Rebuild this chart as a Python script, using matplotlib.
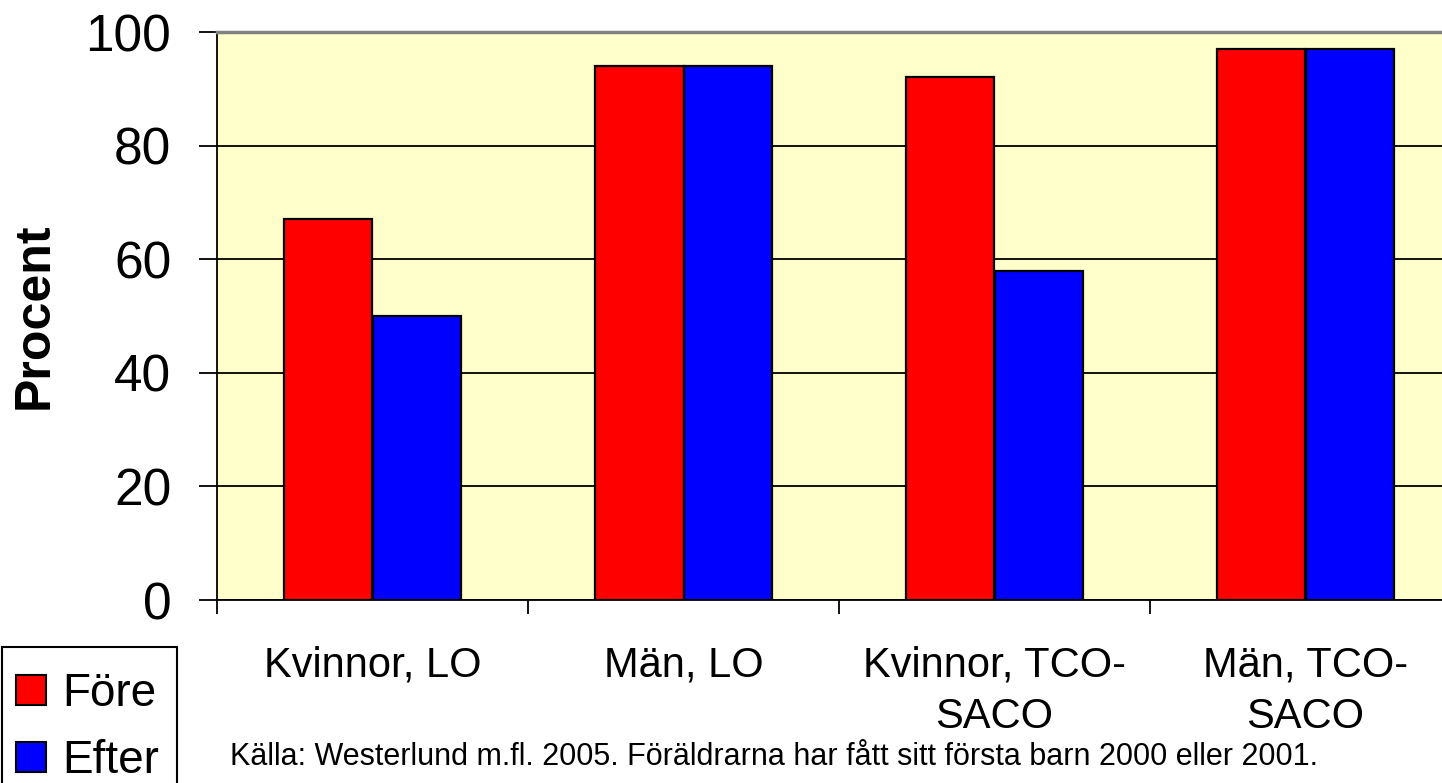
import matplotlib
matplotlib.use("Agg")
import matplotlib.pyplot as plt
from matplotlib.patches import Rectangle
import numpy as np

plt.rcParams['font.family'] = ['Liberation Sans', 'DejaVu Sans']

categories = ["Kvinnor, LO", "Män, LO", "Kvinnor, TCO-\nSACO", "Män, TCO-\nSACO"]
fore = [67, 94, 92, 97]
efter = [50, 94, 58, 97]
series_names = ["Före", "Efter"]
yticks = [0, 20, 40, 60, 80, 100]
source = "Källa: Westerlund m.fl. 2005. Föräldrarna har fått sitt första barn 2000 eller 2001."

W, H = 1442, 783
fig = plt.figure(figsize=(W / 100, H / 100), dpi=100)
ax = fig.add_axes([217 / W, 1 - 600 / H, 1244 / W, 568 / H])
ax.set_facecolor('#FFFFCC')

x = np.arange(len(categories)) + 0.5
bw = 0.283
ax.bar(x - bw / 2, fore, bw, color='#FF0000', edgecolor='black', linewidth=1.6, zorder=3, label=series_names[0])
ax.bar(x + bw / 2, efter, bw, color='#0000FF', edgecolor='black', linewidth=1.6, zorder=3, label=series_names[1])

ax.set_xlim(0, len(categories))
ax.set_ylim(0, 100)
ax.set_yticks(yticks)
ax.set_yticklabels([str(v) for v in yticks], fontsize=37)
ax.tick_params(axis='y', length=13, width=1.3, pad=20, direction='out')
ax.yaxis.grid(True, color='black', linewidth=1.3, zorder=1)
ax.set_axisbelow(True)

ax.set_xticks(np.arange(len(categories) + 1))
ax.set_xticklabels([])
ax.set_xticks(x, minor=True)
ax.set_xticklabels(categories, minor=True, fontsize=30, linespacing=1.35)
ax.tick_params(axis='x', which='major', length=10, width=1.3, direction='out')
ax.tick_params(axis='x', which='minor', length=0, pad=33)

ax.spines['top'].set_color('#808080')
ax.spines['top'].set_linewidth(2.5)
ax.spines['left'].set_linewidth(1.3)
ax.spines['bottom'].set_linewidth(1.3)
ax.spines['right'].set_visible(False)

ax.set_ylabel("Procent", fontsize=36, fontweight='bold')
ax.yaxis.set_label_coords(-0.128, 0.5)

leg = fig.legend(loc='upper left', bbox_to_anchor=(16 / W, 1 - 672 / H), fontsize=33,
                 frameon=False, handlelength=0.65, handleheight=0.65, handletextpad=0.35,
                 labelspacing=0.5, borderpad=0, borderaxespad=0)
for h in leg.legend_handles:
    h.set_edgecolor('black')
    h.set_linewidth(1.5)
fig.add_artist(Rectangle((2 / W, -0.02), 175 / W, (783 - 647) / H + 0.02,
                         transform=fig.transFigure, fill=False, edgecolor='black', linewidth=1.5))

fig.text(230 / W, 1 - 757 / H, source, fontsize=22, va='center', ha='left')

fig.savefig("out.png", dpi=100)
